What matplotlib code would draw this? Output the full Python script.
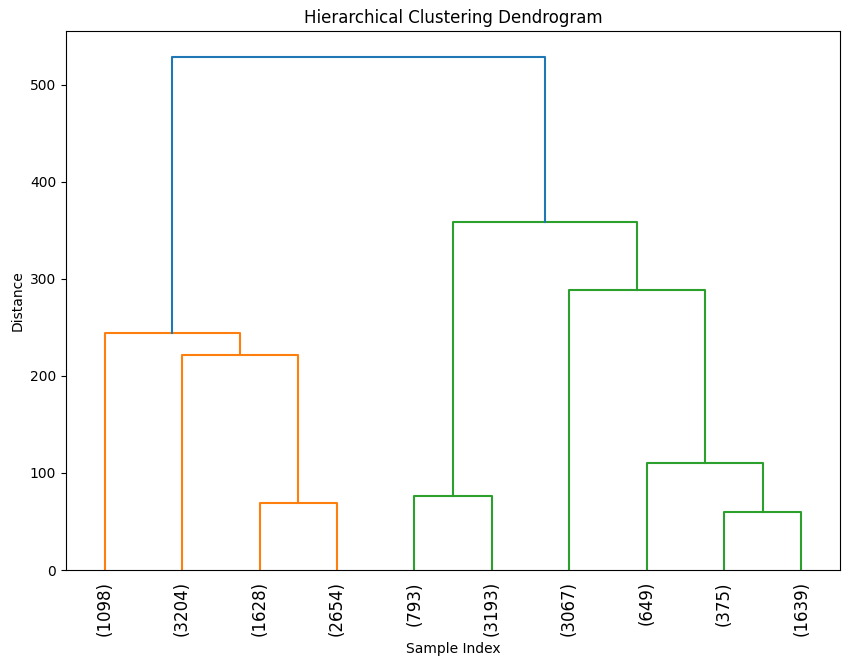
import matplotlib
matplotlib.use("Agg")
import matplotlib.pyplot as plt

leaf_labels = ["(1098)", "(3204)", "(1628)", "(2654)", "(793)",
               "(3193)", "(3067)", "(649)", "(375)", "(1639)"]

# merges: (left child, right child, height, color); children are leaf idx (int) or merge idx ("m#")
merge_left = [2, 1, 0, 4, 8, 7, 6, "m3", "m2"]
merge_right = [3, "m0", "m1", 5, 9, "m4", "m5", "m6", "m7"]
merge_height = [69.1, 221.6, 244.3, 76.3, 59.8, 110.3, 288.7, 358.8, 528.9]
merge_color = ["C1", "C1", "C1", "C2", "C2", "C2", "C2", "C2", "C0"]

fig = plt.figure(figsize=(8.5, 6.65), dpi=100)
ax = fig.add_axes([66/850, 95/665, 774/850, 539/665])

leaf_x = [5 + 10 * i for i in range(len(leaf_labels))]
pos = {}

def get(c):
    if isinstance(c, str):
        return pos[c]
    return (leaf_x[c], 0.0)

for i, (l, r, h, col) in enumerate(zip(merge_left, merge_right, merge_height, merge_color)):
    xl, yl = get(l)
    xr, yr = get(r)
    ax.plot([xl, xl, xr, xr], [yl, h, h, yr], color=col, lw=1.5)
    pos["m%d" % i] = ((xl + xr) / 2, h)

ax.set_xlim(0, 10 * len(leaf_labels))
ax.set_ylim(0, max(merge_height) * 1.05)
ax.set_xticks(leaf_x)
ax.set_xticklabels(leaf_labels, rotation=90, fontsize=12)
ax.tick_params(axis="x", length=0, pad=8)
ax.set_title("Hierarchical Clustering Dendrogram")
ax.set_xlabel("Sample Index")
ax.set_ylabel("Distance")

fig.savefig("out.png", dpi=100)
